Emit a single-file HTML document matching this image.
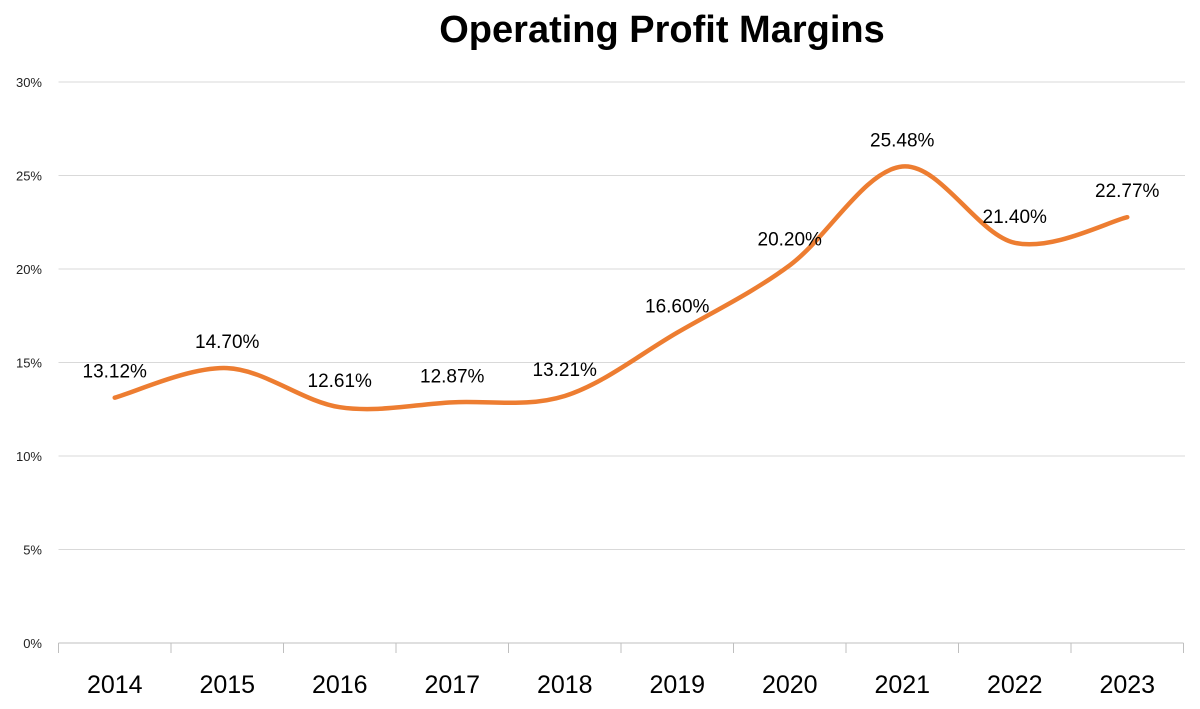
<!DOCTYPE html>
<html><head><meta charset="utf-8"><style>
html,body{margin:0;padding:0;background:#fff;}
svg{display:block;font-family:"Liberation Sans",sans-serif;}
</style></head><body>
<svg id="chart" width="1200" height="709">
<text x="662" y="42" text-anchor="middle" font-size="38" font-weight="bold" fill="#000">Operating Profit Margins</text>
<g id="grid"></g><g id="axes"></g><g id="series"></g><g id="labels"></g>
</svg>
<script>
const categories=["2014","2015","2016","2017","2018","2019","2020","2021","2022","2023"];
const values=[13.12,14.70,12.61,12.87,13.21,16.60,20.20,25.48,21.40,22.77];
const valueLabels=["13.12%","14.70%","12.61%","12.87%","13.21%","16.60%","20.20%","25.48%","21.40%","22.77%"];
const yTicks=[0,5,10,15,20,25,30];
const yTickLabels=["0%","5%","10%","15%","20%","25%","30%"];
const NS="http://www.w3.org/2000/svg";
const x0=58.5,band=112.5,yBase=643,yTop=82,yMax=30;
function xPos(i){return x0+band*(i+0.5);}
function yPos(v){return yBase-(v/yMax)*(yBase-yTop);}
function mk(tag,attrs,parent){const e=document.createElementNS(NS,tag);for(const k in attrs)e.setAttribute(k,attrs[k]);parent.appendChild(e);return e;}
const grid=document.getElementById('grid'),axes=document.getElementById('axes'),series=document.getElementById('series'),labels=document.getElementById('labels');
yTicks.forEach((t,i)=>{
  const y=yPos(t);
  if(t>0){const l=mk('line',{x1:x0,x2:1185,y1:y,y2:y,stroke:'#d9d9d9','stroke-width':1},grid);
  
  }
  const tx=mk('text',{x:42,y:y+5,'text-anchor':'end','font-size':13,fill:'#222'},axes);
  tx.textContent=yTickLabels[i];
  
  
});
const ax=mk('line',{x1:x0,x2:x0+band*categories.length,y1:yBase,y2:yBase,stroke:'#bfbfbf','stroke-width':1},axes);


for(let i=0;i<=categories.length;i++){
  const x=x0+band*i;
  const tk=mk('line',{x1:x,x2:x,y1:yBase,y2:yBase+10,stroke:'#bfbfbf','stroke-width':1},axes);
  
  
}
categories.forEach((c,i)=>{
  const t=mk('text',{x:xPos(i),y:693,'text-anchor':'middle','font-size':25,fill:'#000'},axes);
  t.textContent=c;
  
  
});
const pts=values.map((v,i)=>[xPos(i),yPos(v)]);
let d='M'+pts[0][0]+','+pts[0][1];
for(let i=0;i<pts.length-1;i++){
  const p0=pts[Math.max(0,i-1)],p1=pts[i],p2=pts[i+1],p3=pts[Math.min(pts.length-1,i+2)];
  const c1=[p1[0]+(p2[0]-p0[0])/6,p1[1]+(p2[1]-p0[1])/6];
  const c2=[p2[0]-(p3[0]-p1[0])/6,p2[1]-(p3[1]-p1[1])/6];
  d+=' C'+c1[0]+','+c1[1]+' '+c2[0]+','+c2[1]+' '+p2[0]+','+p2[1];
}
const path=mk('path',{d:d,fill:'none',stroke:'#ed7d31','stroke-width':4.5,'stroke-linecap':'round'},series);


values.forEach((v,i)=>{
  const t=mk('text',{x:xPos(i),y:yPos(v)-20,'text-anchor':'middle','font-size':19,fill:'#000'},labels);
  t.textContent=valueLabels[i];
  
  
});
</script>
</body></html>
